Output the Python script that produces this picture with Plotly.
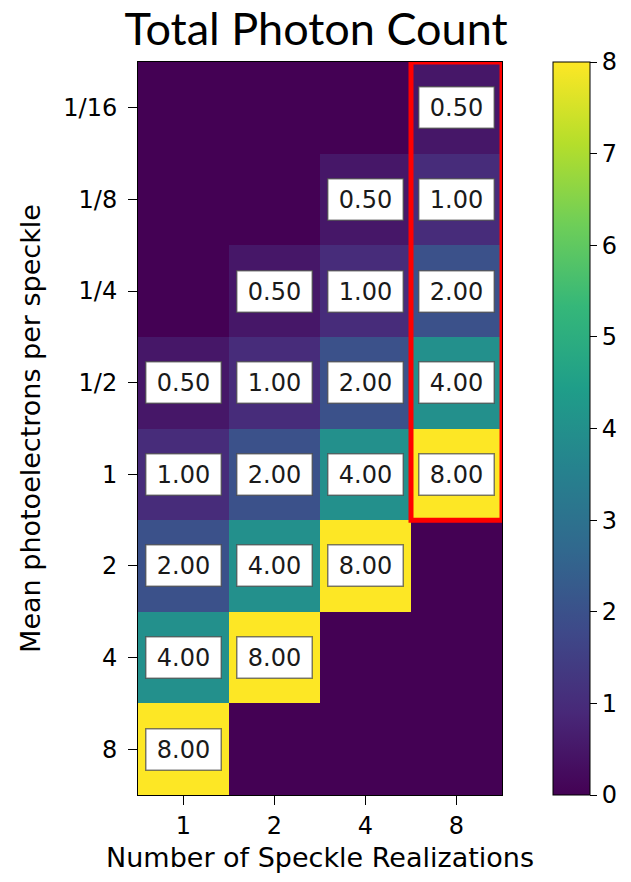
import plotly.graph_objects as go

realizations = ["1", "2", "4", "8"]
photoelectrons = ["1/16", "1/8", "1/4", "1/2", "1", "2", "4", "8"]
pe_values = [1/16, 1/8, 1/4, 1/2, 1, 2, 4, 8]
real_values = [1, 2, 4, 8]

# total photon count per cell (shown only between 0.5 and 8, else 0)
z = []
for pe in pe_values:
    row = []
    for r in real_values:
        v = pe * r
        row.append(v if 0.5 <= v <= 8 else 0)
    z.append(row)

fig = go.Figure()
fig.add_trace(go.Heatmap(
    z=z,
    x=list(range(len(realizations))),
    y=list(range(len(photoelectrons))),
    colorscale="Viridis",
    zmin=0, zmax=8,
    colorbar=dict(
        x=553/631, xanchor="left", xref="container", xpad=0, ypad=0,
        y=0.5, yanchor="middle", yref="paper",
        len=1.0, lenmode="fraction",
        thickness=37, outlinewidth=1, outlinecolor="black",
        ticks="outside", ticklen=7, tickcolor="black",
        tickvals=list(range(9)),
        tickfont=dict(family="DejaVu Sans", size=24, color="black"),
    ),
    hoverinfo="skip",
))

annotations = []
for i, pe in enumerate(pe_values):
    for j, r in enumerate(real_values):
        v = z[i][j]
        if v >= 0.5:
            annotations.append(dict(
                x=j, y=i, xref="x", yref="y",
                text=f"{v:.2f}", showarrow=False,
                font=dict(family="DejaVu Sans", size=24, color="#1a1a1a"),
                bgcolor="white", bordercolor="rgba(70,70,70,0.7)", borderwidth=1.5,
                borderpad=6, width=62, height=28,
            ))

fig.update_layout(
    width=631, height=882,
    margin=dict(l=138, r=129, t=62, b=87),
    paper_bgcolor="white", plot_bgcolor="white",
    title=dict(text="Total Photon Count", x=316/631, xref="container", xanchor="center",
               y=1 - 29/882, yref="container", yanchor="middle",
               font=dict(family="Lato", size=45, color="black")),
    xaxis=dict(
        tickvals=list(range(len(realizations))), ticktext=realizations,
        range=[-0.5, 3.5], ticks="outside", ticklen=9, tickcolor="black",
        showline=True, mirror=True, linecolor="black", linewidth=1,
        showgrid=False, zeroline=False,
        tickfont=dict(family="DejaVu Sans", size=24, color="black"),
        title=dict(text="Number of Speckle Realizations", standoff=9,
                   font=dict(family="DejaVu Sans", size=27, color="black")),
    ),
    yaxis=dict(
        tickvals=list(range(len(photoelectrons))), ticktext=photoelectrons,
        range=[7.5, -0.5], ticks="outside", ticklen=9, tickcolor="black",
        ticklabelstandoff=6,
        showline=True, mirror=True, linecolor="black", linewidth=1,
        showgrid=False, zeroline=False,
        tickfont=dict(family="DejaVu Sans", size=24, color="black"),
        title=dict(text="Mean photoelectrons per speckle", standoff=14,
                   font=dict(family="DejaVu Sans", size=27, color="black")),
    ),
    annotations=annotations,
    shapes=[dict(type="rect", xref="x", yref="y",
                 x0=2.5, x1=3.5, y0=-0.5, y1=4.5,
                 line=dict(color="red", width=5))],
)

fig.write_html("out.html")
